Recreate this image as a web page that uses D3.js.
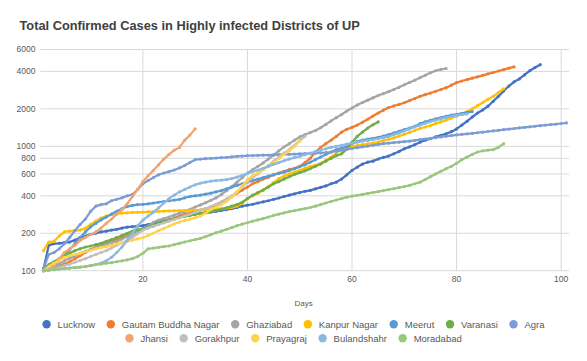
<!DOCTYPE html>
<html>
<head>
<meta charset="utf-8">
<script src="https://cdn.jsdelivr.net/npm/d3@7"></script>
<style>
  body { margin: 0; background: #fff; }
  svg { display: block; font-family: "Liberation Sans", Arial, sans-serif; }
</style>
</head>
<body>
<div id="chart"></div>
<script>
// district names, in legend order
const districts = ["Lucknow", "Gautam Buddha Nagar", "Ghaziabad", "Kanpur Nagar", "Meerut", "Varanasi",
  "Agra", "Jhansi", "Gorakhpur", "Prayagraj", "Bulandshahr", "Moradabad"];

const colors = ["#4472C4", "#ED7D31", "#A5A5A5", "#FFC000", "#5B9BD5", "#70AD47",
  "#7C9CD6", "#F2A46F", "#C0C0C0", "#FFD34D", "#8CB9E2", "#9BC67E"];

// total confirmed cases, one value per day starting at day 1
const lucknow = [103,160,165,166,168,170,176,185,190,196,200,205,208,212,215,220,224,226,228,230,
  235,240,246,250,255,262,270,276,280,285,288,292,296,300,305,310,316,322,330,336,
  342,350,358,365,375,384,395,405,415,425,435,442,455,468,480,500,515,545,590,640,
  680,720,745,760,790,815,835,870,910,955,990,1030,1080,1120,1150,1190,1225,1260,1310,1380,
  1480,1590,1720,1850,1960,2100,2300,2520,2780,3050,3300,3480,3750,4050,4300,4530];

const gautamBuddhaNagar = [100,102,105,108,113,118,125,132,140,148,155,162,168,173,178,185,192,200,208,215,
  222,228,236,245,255,265,275,285,292,300,307,315,325,335,350,370,395,420,445,470,
  500,520,545,565,590,610,630,650,665,690,740,800,900,980,1050,1120,1200,1300,1370,1420,
  1480,1560,1650,1750,1850,1950,2050,2110,2170,2240,2330,2420,2520,2600,2680,2770,2860,2960,3100,3250,
  3350,3440,3530,3620,3720,3820,3920,4030,4130,4250,4350];

const ghaziabad = [100,104,108,113,120,126,132,138,143,148,153,158,163,168,172,180,188,196,205,215,
  228,245,255,262,270,280,290,300,312,325,338,352,368,385,410,440,475,515,560,610,
  650,690,735,790,850,920,990,1050,1120,1190,1240,1290,1340,1410,1500,1600,1700,1800,1920,2030,
  2150,2250,2350,2450,2560,2650,2750,2860,2980,3120,3260,3400,3560,3720,3900,4050,4150,4220];

const kanpurNagar = [145,170,172,190,205,208,210,212,220,235,250,265,275,282,287,290,292,294,295,296,
  297,298,300,301,302,303,304,305,306,307,308,310,312,314,316,318,322,330,350,380,
  400,420,445,475,510,550,575,600,620,640,665,690,705,730,770,820,880,950,980,1000,
  1015,1030,1045,1060,1080,1110,1140,1170,1210,1250,1290,1340,1390,1430,1470,1520,1570,1620,1680,1750,
  1820,1900,2000,2120,2250,2380,2520,2700,2900];

const meerut = [100,105,112,120,135,147,165,185,205,225,240,256,270,285,300,315,328,335,340,342,
  345,350,355,360,365,370,375,385,395,400,405,412,420,430,440,455,470,485,500,515,
  530,545,560,575,590,605,620,640,660,685,710,745,780,820,860,900,940,970,1000,1050,
  1095,1120,1140,1160,1180,1210,1240,1280,1320,1360,1400,1450,1520,1570,1620,1660,1700,1740,1780,1810,
  1840,1870,1900];

const varanasi = [105,112,118,125,132,138,145,150,155,158,162,166,172,178,185,192,200,208,213,218,
  225,232,240,248,255,262,268,273,278,284,289,294,299,305,312,320,330,340,355,380,
  405,425,445,470,500,520,545,570,595,615,635,660,690,720,760,800,840,870,950,1080,
  1200,1300,1400,1490,1570];

const agra = [104,135,140,150,165,185,210,235,260,300,330,340,345,365,375,385,400,410,450,500,
  530,560,590,610,625,645,670,700,740,780,790,795,800,805,810,815,822,830,835,840,
  842,845,848,850,853,856,860,863,866,870,873,876,880,885,890,900,915,930,945,960,
  975,990,1005,1020,1035,1050,1060,1070,1080,1090,1100,1115,1130,1145,1160,1175,1190,1205,1220,1235,
  1245,1260,1270,1285,1300,1315,1330,1345,1360,1375,1390,1405,1420,1435,1450,1465,1480,1495,1510,1525,
  1540];

const jhansi = [100,103,110,125,140,150,160,175,185,195,205,220,240,260,285,310,345,395,450,520,
  580,640,710,790,860,930,980,1120,1230,1380];

const gorakhpur = [100,101,103,106,110,113,117,121,125,130,135,140,145,152,160,168,175,185,198,212,
  220,228,235,242,250,258,266,275,285,295,305,315,328,342,358,378,400,430,470,520,
  560,600,650,700,760,820,880,940,1020,1110,1200];

const prayagraj = [100,108,115,120,128,132,135,138,142,146,150,153,156,160,164,168,172,176,180,184,
  192,200,210,218,228,238,246,254,260,266,275,290,310,325,340,360,390,430,480,540,
  580,610,650,690,740,800,860,920,1000,1100];

const bulandshahr = [100,101,102,103,104,105,106,107,108,110,112,115,120,128,140,155,175,200,230,255,
  275,295,320,350,380,405,430,450,470,490,505,515,525,530,535,540,550,565,585,605,
  625,645,665,690,715,740,765,790,810,830,855,880,905,930,955,980,1000,1020,1040,1060,
  1080,1100,1115,1130,1150,1175,1200,1240,1280,1330,1380,1430,1480,1530,1580,1620,1660,1700,1740,1770,
  1800,1820];

const moradabad = [100,101,102,103,104,105,106,107,108,110,112,113,115,116,118,120,122,125,130,138,
  150,152,154,156,158,162,166,170,174,178,182,188,195,202,208,215,222,230,237,243,
  250,256,262,270,278,285,292,298,304,310,316,322,330,340,350,360,370,380,390,398,
  404,410,418,425,432,440,448,456,465,475,485,500,515,540,570,600,630,660,690,730,
  780,820,860,900,920,930,940,980,1050];

const seriesValues = [lucknow, gautamBuddhaNagar, ghaziabad, kanpurNagar, meerut, varanasi,
  agra, jhansi, gorakhpur, prayagraj, bulandshahr, moradabad];

const yTicks = [100, 200, 400, 600, 800, 1000, 2000, 4000, 6000];
const xTicks = [20, 40, 60, 80, 100];
const legendRows = [districts.slice(0, 7), districts.slice(7)];

const width = 587;
const height = 361;
const plot = { left: 38.3, right: 569, top: 49.5, bottom: 270.7 };

const svg = d3.select("#chart")
  .append("svg")
  .attr("width", width)
  .attr("height", height);

const xScale = d3.scaleLinear().domain([0, 101.5]).range([plot.left, plot.right]);
const yScale = d3.scaleLog().domain([100, 6000]).range([plot.bottom, plot.top]);

// title
svg.append("text")
  .attr("x", 19.5)
  .attr("y", 29.5)
  .attr("font-size", 12.8)
  .attr("font-weight", "bold")
  .attr("fill", "#404040")
  .text("Total Confirmed Cases in Highly infected Districts of UP");

// gridlines
svg.append("g")
  .selectAll("line")
  .data(yTicks)
  .join("line")
  .attr("x1", plot.left + 2)
  .attr("x2", plot.right)
  .attr("y1", d => yScale(d))
  .attr("y2", d => yScale(d))
  .attr("stroke", "#d9d9d9")
  .attr("stroke-width", 1);

svg.append("g")
  .selectAll("line")
  .data(xTicks)
  .join("line")
  .attr("x1", d => xScale(d))
  .attr("x2", d => xScale(d))
  .attr("y1", plot.top)
  .attr("y2", plot.bottom)
  .attr("stroke", "#d9d9d9")
  .attr("stroke-width", 1);

// axis labels
svg.append("g")
  .selectAll("text")
  .data(yTicks)
  .join("text")
  .attr("x", 35.5)
  .attr("y", d => yScale(d))
  .attr("dy", "0.35em")
  .attr("text-anchor", "end")
  .attr("font-size", 8.5)
  .attr("fill", "#595959")
  .text(d => d);

svg.append("g")
  .selectAll("text")
  .data(xTicks)
  .join("text")
  .attr("x", d => xScale(d))
  .attr("y", 279.5)
  .attr("dy", "0.35em")
  .attr("text-anchor", "middle")
  .attr("font-size", 8.5)
  .attr("fill", "#595959")
  .text(d => d);

svg.append("text")
  .attr("x", (plot.left + plot.right) / 2)
  .attr("y", 303)
  .attr("dy", "0.35em")
  .attr("text-anchor", "middle")
  .attr("font-size", 8)
  .attr("fill", "#595959")
  .text("Days");

// lines + markers
const line = d3.line()
  .x((d, i) => xScale(i + 1))
  .y(d => yScale(d));

const series = svg.append("g")
  .selectAll("g")
  .data(seriesValues)
  .join("g");

series.append("path")
  .attr("d", d => line(d))
  .attr("fill", "none")
  .attr("stroke", (d, i) => colors[i])
  .attr("stroke-width", 2.25)
  .attr("stroke-linejoin", "round");

series.each(function (values, k) {
  d3.select(this)
    .selectAll("circle")
    .data(values)
    .join("circle")
    .attr("cx", (d, i) => xScale(i + 1))
    .attr("cy", d => yScale(d))
    .attr("r", 1.6)
    .attr("fill", colors[k]);
});

// legend, two centred rows
const legend = svg.append("g").attr("font-size", 9.5).attr("fill", "#595959");
const rowY = [324.3, 338.3];

legendRows.forEach((names, r) => {
  const row = legend.append("g");
  let x = 0;
  names.forEach(name => {
    const k = districts.indexOf(name);
    row.append("circle")
      .attr("cx", x + 4.2)
      .attr("cy", rowY[r])
      .attr("r", 4.2)
      .attr("fill", colors[k]);
    const t = row.append("text")
      .attr("x", x + 15.2)
      .attr("y", rowY[r])
      .attr("dy", "0.35em")
      .text(name);
    x += 15.2 + t.node().getComputedTextLength() + 11.5;
  });
  const rowWidth = x - 11.5;
  row.attr("transform", `translate(${(width - rowWidth) / 2},0)`);
});
</script>
</body>
</html>
